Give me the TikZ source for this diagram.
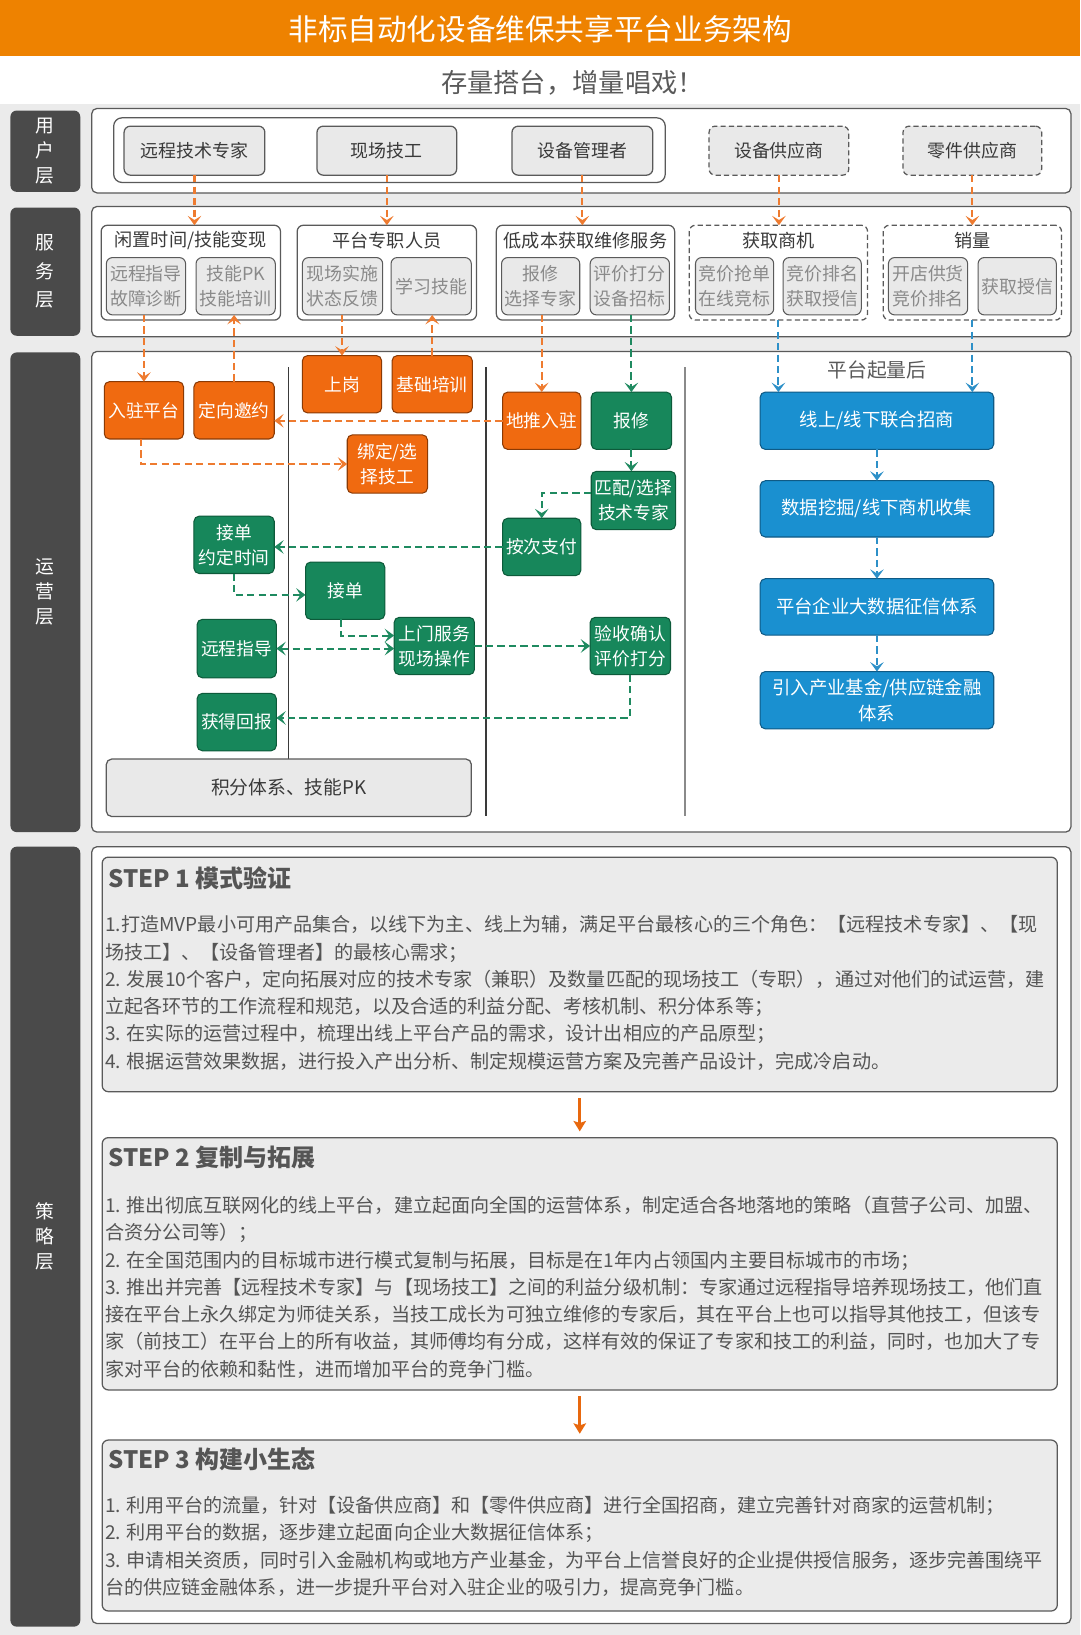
\documentclass[tikz,border=0pt]{standalone}
\usepackage{fontspec}
\setmainfont{Noto Sans CJK SC}
\usetikzlibrary{arrows.meta}
\definecolor{cTitle}{HTML}{EE8200}
\definecolor{cBg}{HTML}{EBEBEB}
\definecolor{cDark}{HTML}{4A4A4A}
\definecolor{cBorder}{HTML}{5A5A5A}
\definecolor{cLight}{HTML}{E9E9E9}
\definecolor{cGrayT}{HTML}{8A8A8A}
\definecolor{cText}{HTML}{3A3A3A}
\definecolor{cSub}{HTML}{5A5A5A}
\definecolor{cOr}{HTML}{F06A10}
\definecolor{cOrB}{HTML}{8A3A05}
\definecolor{cGr}{HTML}{17875B}
\definecolor{cGrB}{HTML}{0D5A3A}
\definecolor{cBl}{HTML}{1A90D0}
\definecolor{cBlB}{HTML}{0F5A85}
\definecolor{cOA}{HTML}{EE7B30}
\definecolor{cGA}{HTML}{1F8A60}
\definecolor{cBA}{HTML}{2D90C8}
\definecolor{cStepA}{HTML}{E8680E}
\definecolor{cBody}{HTML}{555555}
\newcommand\fs[2]{\fontsize{#1}{#2}\selectfont}
\newcommand\bx[7]{%
  \pgfmathsetmacro\bxw{(#5-#3)/2}%
  \pgfmathsetmacro\bxh{(#6-#4)/2}%
  \node[#1,minimum width=\bxw pt,minimum height=\bxh pt] (#2) at ({(#3+#5)/2},{(#4+#6)/2}) {#7};}
\tikzset{
  every node/.style={inner sep=0.5pt,outer sep=0pt},
  layer/.style={fill=cDark,rounded corners=3pt,text=white,align=center,font=\fs{9pt}{12pt}},
  panel/.style={draw=cBorder,line width=0.6pt,fill=white,rounded corners=2.5pt},
  grp/.style={draw=cBorder,line width=0.6pt,fill=white,rounded corners=3pt},
  ubox/.style={draw=cBorder,line width=0.6pt,fill=cLight,rounded corners=3pt,text=cText,font=\fs{8.6pt}{12pt}},
  dsh/.style={dash pattern=on 2.5pt off 1.5pt},
  gtitle/.style={text=cText,font=\fs{8.7pt}{12pt}},
  sub/.style={draw=cBorder,line width=0.5pt,fill=cLight,rounded corners=3pt,text=cGrayT,align=center,font=\fs{8.6pt}{12pt}},
  obox/.style={draw=cOrB,line width=0.5pt,fill=cOr,rounded corners=2.5pt,text=white,align=center,font=\fs{8.5pt}{12pt}},
  gbox/.style={draw=cGrB,line width=0.5pt,fill=cGr,rounded corners=2.5pt,text=white,align=center,font=\fs{8.5pt}{12pt}},
  bbox/.style={draw=cBlB,line width=0.5pt,fill=cBl,rounded corners=2.5pt,text=white,align=center,font=\fs{8.8pt}{12.5pt}},
  pkbox/.style={draw=cBorder,line width=0.6pt,fill=cLight,rounded corners=2.5pt,text=cText,font=\fs{9pt}{12pt}},
  stepbox/.style={draw=cBorder,line width=0.6pt,fill=cBg,rounded corners=3pt},
  stephead/.style={anchor=west,text=cBody,font=\fs{11.5pt}{14pt}\bfseries},
  stepbody/.style={anchor=north west,align=left,text=cBody,font=\fs{9.15pt}{13.1pt}},
  tipa/.style={-{Stealth[length=4.5pt,width=6.5pt,inset=2pt]}},
  oarr/.style={draw=cOA,line width=1pt,dash pattern=on 3.5pt off 2pt,tipa},
  garr/.style={draw=cGA,line width=1pt,dash pattern=on 3.5pt off 2pt,tipa},
  garrb/.style={draw=cGA,line width=1pt,dash pattern=on 3.5pt off 2pt,{Stealth[length=4.5pt,width=6.5pt,inset=2pt]}-{Stealth[length=4.5pt,width=6.5pt,inset=2pt]}},
  barr/.style={draw=cBA,line width=1pt,dash pattern=on 3.5pt off 2pt,tipa},
  sarr/.style={draw=cStepA,line width=1.3pt,-{Stealth[length=5pt,width=6pt,inset=1pt]}},
  vline/.style={draw=cText,line width=0.6pt},
}
\begin{document}
\begin{tikzpicture}[x=0.5pt,y=-0.5pt]
\useasboundingbox (0,0) rectangle (1036,1568);
\fill[cBg] (0,100) rectangle (1036,1568);
\fill[cTitle] (0,0) rectangle (1036,54);
\node[text=white,font=\fs{14.2pt}{16pt}] (title) at (518,28) {非标自动化设备维保共享平台业务架构};
\node[text=cSub,font=\fs{12.6pt}{14pt}] (subtitle) at (549,79) {存量搭台，增量唱戏！};

% layer labels
\bx{layer}{L1}{10}{106}{77}{184}{用\\户\\层}
\bx{layer,font=\fs{9pt}{13.7pt}}{L2}{10}{199}{77}{322}{服\\务\\层}
\bx{layer}{L3}{10}{338}{77}{798}{运\\营\\层}
\bx{layer}{L4}{10}{812}{77}{1560}{策\\略\\层}

% panels
\bx{panel}{P1}{88}{104}{1027}{185}{}
\bx{panel}{P2}{88}{198}{1027}{323}{}
\bx{panel}{P3}{88}{337}{1027}{798}{}
\bx{panel}{P4}{88}{812}{1027}{1557}{}

% user layer
\bx{grp,rounded corners=4pt}{UG}{109}{113}{638}{175}{}
\bx{ubox}{U1}{119}{121}{254}{168}{远程技术专家}
\bx{ubox}{U2}{304}{121}{438}{168}{现场技工}
\bx{ubox}{U3}{491}{121}{626}{168}{设备管理者}
\bx{ubox,dsh}{U4}{680}{121}{814}{168}{设备供应商}
\bx{ubox,dsh}{U5}{866}{121}{999}{168}{零件供应商}

% service layer
\bx{grp}{G1}{97}{216}{269}{307}{}
\bx{grp}{G2}{285}{216}{457}{307}{}
\bx{grp}{G3}{476}{216}{647}{307}{}
\bx{grp,dsh}{G4}{661}{216}{832}{307}{}
\bx{grp,dsh}{G5}{847}{216}{1018}{307}{}
\node[gtitle] (G1t) at ([yshift=-7.5pt]G1.north) {闲置时间/技能变现};
\node[gtitle] (G2t) at ([yshift=-7.5pt]G2.north) {平台专职人员};
\node[gtitle] (G3t) at ([yshift=-7.5pt]G3.north) {低成本获取维修服务};
\node[gtitle] (G4t) at ([yshift=-7.5pt]G4.north) {获取商机};
\node[gtitle] (G5t) at ([yshift=-7.5pt]G5.north) {销量};
\bx{sub}{S11}{102}{247}{178}{302}{远程指导\\故障诊断}
\bx{sub}{S12}{188}{247}{264}{302}{技能PK\\技能培训}
\bx{sub}{S21}{290}{247}{367}{302}{现场实施\\状态反馈}
\bx{sub}{S22}{375}{247}{452}{302}{学习技能}
\bx{sub}{S31}{481}{247}{556}{302}{报修\\选择专家}
\bx{sub}{S32}{566}{247}{642}{302}{评价打分\\设备招标}
\bx{sub}{S41}{667}{247}{742}{302}{竞价抢单\\在线竞标}
\bx{sub}{S42}{751}{247}{826}{302}{竞价排名\\获取授信}
\bx{sub}{S51}{852}{247}{928}{302}{开店供货\\竞价排名}
\bx{sub}{S52}{938}{247}{1013}{302}{获取授信}

% user -> service
\draw[oarr] (U1.south) -- (U1.south |- G1.north);
\draw[oarr] (U2.south) -- (U2.south |- G2.north);
\draw[oarr] (U3.south) -- (U3.south |- G3.north);
\draw[oarr] (U4.south) -- (U4.south |- G4.north);
\draw[oarr] (U5.south) -- (U5.south |- G5.north);

% operations layer
\draw[vline] (277,352) -- (277,728);
\draw[vline] (466,352) -- (466,783);
\draw[vline,draw=cGrayT] (657,352) -- (657,783);
\node[text=cSub,font=\fs{9.5pt}{12pt}] (rise) at (841,355) {平台起量后};

\bx{obox}{O1}{100}{366}{176}{421}{入驻平台}
\bx{obox}{O2}{186}{366}{263}{421}{定向邀约}
\bx{obox}{O3}{290}{341}{366}{396}{上岗}
\bx{obox}{O4}{376}{341}{453}{396}{基础培训}
\bx{obox}{O5}{333}{417}{410}{473}{绑定/选\\择技工}
\bx{obox}{O6}{482}{376}{557}{431}{地推入驻}
\bx{gbox}{Rep}{567}{376}{644}{431}{报修}
\bx{gbox}{Match}{567}{452}{648}{508}{匹配/选择\\技术专家}
\bx{gbox}{Pay}{482}{497}{557}{552}{按次支付}
\bx{gbox}{Time}{186}{495}{263}{550}{接单\\约定时间}
\bx{gbox}{Jd}{293}{539}{369}{594}{接单}
\bx{gbox}{Remote}{189}{594}{265}{650}{远程指导}
\bx{gbox}{Svc}{378}{592}{455}{647}{上门服务\\现场操作}
\bx{gbox}{Acc}{566}{592}{643}{647}{验收确认\\评价打分}
\bx{gbox}{Reward}{189}{665}{265}{720}{获得回报}
\bx{pkbox}{PK}{102}{728}{452}{783}{积分体系、技能PK}
\bx{bbox}{B1}{729}{376}{953}{431}{线上/线下联合招商}
\bx{bbox}{B2}{729}{461}{953}{515}{数据挖掘/线下商机收集}
\bx{bbox}{B3}{729}{555}{953}{609}{平台企业大数据征信体系}
\bx{bbox}{B4}{729}{644}{953}{699}{引入产业基金/供应链金融\\体系}

% service -> operations
\draw[oarr] (O1.north |- S11.south) -- (O1.north);
\draw[oarr] (O2.north) -- (O2.north |- S12.south);
\draw[oarr] (O3.north |- S21.south) -- (O3.north);
\draw[oarr] (O4.north) -- (O4.north |- S22.south);
\draw[oarr] (O6.north |- S31.south) -- (O6.north);
\draw[garr] (Rep.north |- S32.south) -- (Rep.north);
\draw[barr] (G4.south) -- (G4.south |- B1.north);
\draw[barr] (G5.south) -- (G5.south |- B1.north);

% flows inside operations
\draw[oarr] (O6.west) -- (O6.west -| O2.east);
\draw[oarr] ([xshift=-1.5pt]O1.south) |- (O5.west);
\draw[garr] (Rep.south) -- (Rep.south |- Match.north);
\draw[garr] ([yshift=3.5pt]Match.west) -| (Pay.north);
\draw[garr] (Pay.west) -- (Pay.west -| Time.east);
\draw[garr] (Time.south) |- ([yshift=-2pt]Jd.west);
\draw[garr] ([xshift=-2pt]Jd.south) |- ([yshift=5pt]Svc.west);
\draw[garrb] (Remote.east) -- (Remote.east -| Svc.west);
\draw[garr] (Svc.east) -- (Svc.east -| Acc.west);
\draw[garr] (Acc.south) |- ([yshift=2pt]Reward.east);
\draw[barr] (B1.south) -- (B2.north);
\draw[barr] (B2.south) -- (B3.north);
\draw[barr] (B3.south) -- (B4.north);

% strategy layer
\bx{stepbox}{ST1}{98}{822}{1014}{1047}{}
\bx{stepbox}{ST2}{98}{1091}{1014}{1333}{}
\bx{stepbox}{ST3}{98}{1381}{1014}{1545}{}
\draw[sarr] ([yshift=-3pt]ST1.south) -- ([yshift=3pt]ST2.north);
\draw[sarr] ([yshift=-3pt]ST2.south) -- ([yshift=3pt]ST3.north);

\node[stephead] (H1) at (103,842) {STEP 1 模式验证};
\node[stepbody] (T1) at (100,877) {1.打造MVP最小可用产品集合，以线下为主、线上为辅，满足平台最核心的三个角色：【远程技术专家】、【现\\场技工】、【设备管理者】的最核心需求；\\2. 发展10个客户，定向拓展对应的技术专家（兼职）及数量匹配的现场技工（专职），通过对他们的试运营，建\\立起各环节的工作流程和规范，以及合适的利益分配、考核机制、积分体系等；\\3. 在实际的运营过程中，梳理出线上平台产品的需求，设计出相应的产品原型；\\4. 根据运营效果数据，进行投入产出分析、制定规模运营方案及完善产品设计，完成冷启动。};

\node[stephead] (H2) at (103,1110) {STEP 2 复制与拓展};
\node[stepbody] (T2) at (100,1146) {1. 推出彻底互联网化的线上平台，建立起面向全国的运营体系，制定适合各地落地的策略（直营子公司、加盟、\\合资分公司等）；\\2. 在全国范围内的目标城市进行模式复制与拓展，目标是在1年内占领国内主要目标城市的市场；\\3. 推出并完善【远程技术专家】与【现场技工】之间的利益分级机制：专家通过远程指导培养现场技工，他们直\\接在平台上永久绑定为师徒关系，当技工成长为可独立维修的专家后，其在平台上也可以指导其他技工，但该专\\家（前技工）在平台上的所有收益，其师傅均有分成，这样有效的保证了专家和技工的利益，同时，也加大了专\\家对平台的依赖和黏性，进而增加平台的竞争门槛。};

\node[stephead] (H3) at (103,1399) {STEP 3 构建小生态};
\node[stepbody] (T3) at (100,1434) {1. 利用平台的流量，针对【设备供应商】和【零件供应商】进行全国招商，建立完善针对商家的运营机制；\\2. 利用平台的数据，逐步建立起面向企业大数据征信体系；\\3. 申请相关资质，同时引入金融机构或地方产业基金，为平台上信誉良好的企业提供授信服务，逐步完善围绕平\\台的供应链金融体系，进一步提升平台对入驻企业的吸引力，提高竞争门槛。};
\end{tikzpicture}
\end{document}
